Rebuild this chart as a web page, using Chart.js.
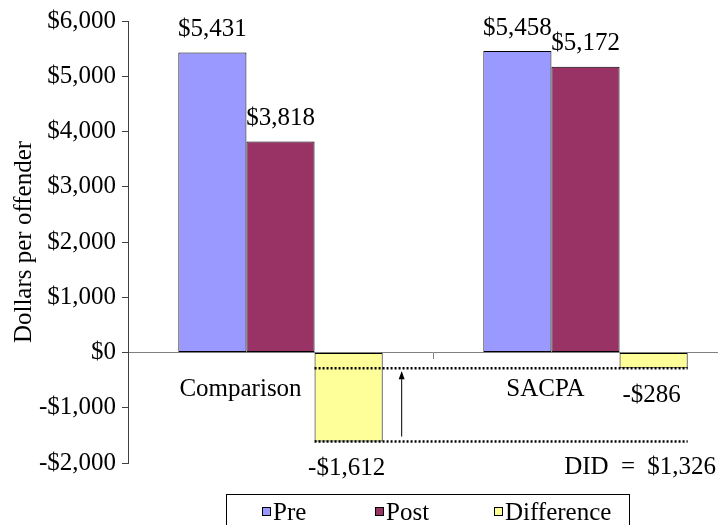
<!DOCTYPE html>
<html>
<head>
<meta charset="utf-8">
<script src="https://cdn.jsdelivr.net/npm/chart.js@4.4.0/dist/chart.umd.min.js"></script>
<style>
body{margin:0;background:#fff;overflow:hidden;}
#wrap{width:740px;height:525px;}
</style>
</head>
<body>
<div id="wrap"><canvas id="didChart"></canvas></div>
<script>

const categories=["Comparison","SACPA"];
const seriesNames=["Pre","Post","Difference"];
const preValues=[5431,5458];
const postValues=[3818,5172];
const diffValues=[-1612,-286];
const yTicks=[-2000,-1000,0,1000,2000,3000,4000,5000,6000];

const FONT='"Liberation Serif","Times New Roman",serif';

function money(v){
    return (v<0?"-":"")+"$"+Math.abs(v).toLocaleString("en-US");
}

// labels, DID lines, arrow and the boxed legend
const extras={
    id:"extras",
    afterDatasetsDraw(chart){
        const ctx=chart.ctx;
        const y=chart.scales.y;
        const x=chart.scales.x;
        ctx.save();
        ctx.fillStyle="#000";
        ctx.font="25px "+FONT;
        ctx.textAlign="center";
        ctx.textBaseline="middle";

        chart.data.datasets.forEach((ds,di)=>{
            const meta=chart.getDatasetMeta(di);
            meta.data.forEach((bar,i)=>{
                const v=ds.data[i];
                if(v>=0){
                    ctx.fillText(money(v),bar.x,bar.y-23);
                }else{
                    ctx.fillText(money(v),bar.x-2,bar.y+27);
                }
            });
        });

        categories.forEach((c,i)=>{
            ctx.fillText(c,x.getPixelForValue(i)-40,y.getPixelForValue(0)+37);
        });

        // difference-in-differences guide lines
        const diffMeta=chart.getDatasetMeta(2).data;
        const x0=diffMeta[0].x-diffMeta[0].width/2;
        const x1=diffMeta[1].x+diffMeta[1].width/2;
        const yA=y.getPixelForValue(diffValues[1]);
        const yB=y.getPixelForValue(diffValues[0]);
        ctx.strokeStyle="#000";
        ctx.lineWidth=2.5;
        ctx.setLineDash([2,2]);
        ctx.beginPath();
        ctx.moveTo(x0,yA);ctx.lineTo(x1,yA);
        ctx.moveTo(x0,yB);ctx.lineTo(x1,yB);
        ctx.stroke();
        ctx.setLineDash([]);

        const ax=diffMeta[0].x+diffMeta[0].width/2+19;
        ctx.lineWidth=1;
        ctx.beginPath();
        ctx.moveTo(ax,yB-5);ctx.lineTo(ax,yA+4);
        ctx.stroke();
        ctx.beginPath();
        ctx.moveTo(ax,yA+3);ctx.lineTo(ax-3,yA+11);ctx.lineTo(ax+3,yA+11);
        ctx.closePath();ctx.fill();

        const did=diffValues[1]-diffValues[0];
        ctx.textAlign="right";
        ctx.wordSpacing="6px";
        ctx.fillText("DID = "+money(did),716,y.getPixelForValue(-2000)+4);
        ctx.wordSpacing="0px";

        // legend
        ctx.lineWidth=1;
        ctx.strokeRect(226.5,494.5,403,40);
        const legendX=[262,375,494];
        ctx.textAlign="left";
        chart.data.datasets.forEach((ds,di)=>{
            const lx=legendX[di];
            ctx.fillStyle=ds.backgroundColor;
            ctx.fillRect(lx,507,9,9);
            ctx.strokeRect(lx+0.5,507.5,8,8);
            ctx.fillStyle="#000";
            ctx.fillText(ds.label,lx+11,513);
        });
        ctx.restore();
    }
};

new Chart(document.getElementById("didChart"),{
    type:"bar",
    data:{
        labels:categories,
        datasets:[
            {label:seriesNames[0],data:preValues,backgroundColor:"#9999FF"},
            {label:seriesNames[1],data:postValues,backgroundColor:"#993366"},
            {label:seriesNames[2],data:diffValues,backgroundColor:"#FFFF99"}
        ]
    },
    options:{
        responsive:true,
        maintainAspectRatio:false,
        animation:false,
        layout:{padding:{top:20,bottom:62,left:0,right:2}},
        datasets:{bar:{borderColor:"#000",borderWidth:1,borderSkipped:false,categoryPercentage:0.67,barPercentage:1}},
        plugins:{legend:{display:false},tooltip:{enabled:false}},
        scales:{
            x:{
                position:{y:0},
                offset:true,
                ticks:{display:false},
                grid:{drawOnChartArea:false,drawTicks:true,tickLength:6,color:"#808080",offset:true},
                border:{color:"#808080"}
            },
            y:{
                min:-2000,max:6000,
                afterBuildTicks(scale){scale.ticks=yTicks.map(v=>({value:v}));},
                afterFit(scale){scale.width=128;},
                ticks:{color:"#000",font:{family:FONT,size:25},padding:6,callback:v=>money(v)},
                grid:{drawOnChartArea:false,drawTicks:true,tickLength:6,color:"#404040"},
                border:{color:"#404040"},
                title:{display:true,text:"Dollars per offender",color:"#000",font:{family:FONT,size:25},padding:{top:9,bottom:0}}
            }
        }
    },
    plugins:[extras]
});
</script>
</body>
</html>
